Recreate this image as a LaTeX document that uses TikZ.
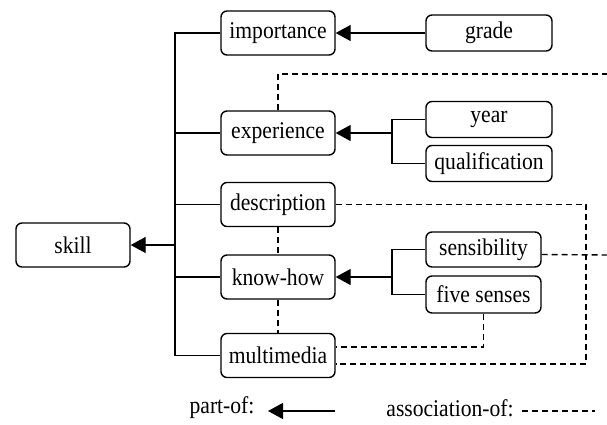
\documentclass[tikz,border=0pt]{standalone}
\usepackage{fontspec}
\setmainfont{Liberation Serif}[FakeStretch=0.9]
\usetikzlibrary{positioning,arrows.meta,calc}

\begin{document}
\begin{tikzpicture}[x=1pt,y=-1pt,
    item/.style={draw,line width=1.4pt,rounded corners=6pt,minimum width=114pt,
      minimum height=44pt,inner sep=0pt,font=\fontsize{24}{28}\selectfont},
    leaf/.style={item,minimum width=126pt,minimum height=36pt},
    link/.style={line width=1.4pt},
    partof/.style={link,{Triangle[length=15pt,width=16pt]}-},
    assoc/.style={link,dash pattern=on 6pt off 4pt}]
  \useasboundingbox (0,0) rectangle (607,424);
  % left column
  \node[item] (skill) at (73,245) {skill};
  \node[item] (importance) at (278,33) {importance};
  \node[item] (experience) at (278,133) {experience};
  \node[item] (description) at (278,204.5) {description};
  \node[item] (knowhow) at (278,277) {know-how};
  \node[item] (multimedia) at (278,355.5) {multimedia};
  % right column
  \node[leaf] (grade) at (489,33) {grade};
  \node[leaf] (year) at (489,119.5) {year};
  \node[leaf] (qualification) at (489,163.5) {qualification};
  \node[leaf,minimum width=115pt,minimum height=35pt] (sensibility) at (483.5,249.5) {sensibility};
  \node[leaf,minimum width=115pt,minimum height=37pt] (fivesenses) at (483.5,294.5) {five senses};
  % part-of
  \coordinate (tr) at (175,245);
  \coordinate (fe) at (392,133);
  \coordinate (fk) at (392,277);
  \draw[link] (importance.west) -| (tr) |- (multimedia.west);
  \draw[link] (experience.west) -- (experience.west -| tr);
  \draw[link] (description.west) -- (description.west -| tr);
  \draw[link] (knowhow.west) -- (knowhow.west -| tr);
  \draw[partof] (skill.east) -- (tr);
  \draw[partof] (importance.east) -- (grade.west);
  \draw[link] (year.west) -| (fe) |- (qualification.west);
  \draw[partof] (experience.east) -- (fe);
  \draw[link] (sensibility.west) -| (fk) |- (fivesenses.west);
  \draw[partof] (knowhow.east) -- (fk);
  % association-of
  \coordinate (ex) at (607,74);
  \coordinate (dc) at (586,364);
  \coordinate (sx) at (607,255);
  \draw[assoc] (experience.north) |- (ex);
  \draw[assoc] (description.east) -| (dc) -- ($(multimedia.east)+(0,8.5)$);
  \draw[assoc] (fivesenses.south) |- ($(multimedia.east)+(0,-8.5)$);
  \draw[assoc] ($(sensibility.east)+(0,5)$) -- (sx);
  \draw[assoc] (description.south) -- (knowhow.north);
  \draw[assoc] (knowhow.south) -- (multimedia.north);
  % legend
  \node[font=\fontsize{24}{28}\selectfont] (partlbl) at (222,408) {part-of:};
  \node[font=\fontsize{24}{28}\selectfont] (assoclbl) at (450,408) {association-of:};
  \coordinate (pa) at (268,411);
  \coordinate (pb) at (335,411);
  \coordinate (aa) at (522,411);
  \coordinate (ab) at (595,411);
  \draw[partof] (pa) -- (pb);
  \draw[assoc] (aa) -- (ab);
\end{tikzpicture}
\end{document}
